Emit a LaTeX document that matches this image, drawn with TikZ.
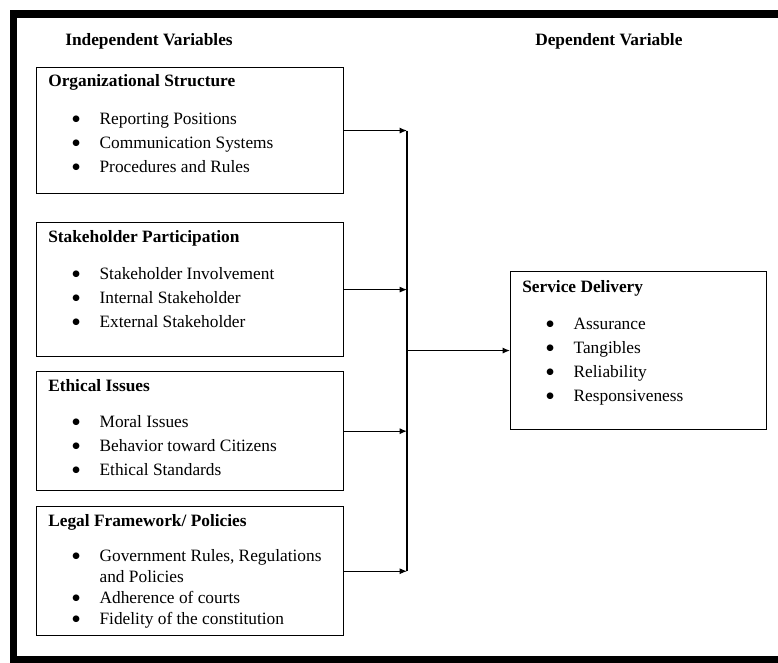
\documentclass[tikz,border=0pt]{standalone}
\usepackage{fontspec}
\setmainfont{Liberation Serif}
\newfontfamily\dotfont{DejaVu Sans}
\usetikzlibrary{arrows.meta,positioning}

\newcommand{\vitem}[1]{\hspace*{18pt}\makebox[20.5pt][l]{\raisebox{2.4pt}{\dotfont\fontsize{6.5}{6.5}\selectfont ●}}#1}

\tikzset{
  varbox/.style={draw, line width=0.8pt, inner sep=0, minimum width=230.25pt},
  vartext/.style={anchor=north west, align=left, inner sep=0, xshift=9pt, yshift=-5.75pt},
  header/.style={anchor=west, inner sep=0, font=\fontsize{13}{18}\selectfont\bfseries},
  conn/.style={-{Latex[length=5.5pt,width=4.5pt]}, line width=0.8pt},
}

\begin{document}
\begin{tikzpicture}[x=0.75pt,y=-0.75pt,font=\fontsize{13}{18}\selectfont]
\useasboundingbox (0,0) rectangle (778,662);

% Outer frame
\begin{scope}
  \clip (0,0) rectangle (778,662);
  \draw[line width=5.5pt] (13.5,14) rectangle (800,659.5);
\end{scope}

% Headers
\node[header] (indep) at (65,41) {Independent Variables};
\node[header] (dep) at (535,41) {Dependent Variable};

% Independent variable boxes
\node[varbox,
    anchor=north west,
    minimum height=94.5pt] (org) at (36,67) {};
\node[vartext] (orgtext) at (org.north west) {\textbf{Organizational Structure}\\[10pt]
    \vitem{Reporting Positions}\\
    \vitem{Communication Systems}\\
    \vitem{Procedures and Rules}};

\node[varbox,
    below=21pt of org,
    minimum height=100.5pt] (stake) {};
\node[vartext] (staketext) at (stake.north west) {\textbf{Stakeholder Participation}\\[10pt]
    \vitem{Stakeholder Involvement}\\
    \vitem{Internal Stakeholder}\\
    \vitem{External Stakeholder}};

\node[varbox,
    below=10.5pt of stake,
    minimum height=89.25pt] (ethic) {};
\node[vartext] (ethictext) at (ethic.north west) {\textbf{Ethical Issues}\\[9.5pt]
    \vitem{Moral Issues}\\
    \vitem{Behavior toward Citizens}\\
    \vitem{Ethical Standards}};

\node[varbox,
    below=11.25pt of ethic,
    minimum height=96.75pt] (legal) {};
\node[vartext, font=\fontsize{13}{15.75}\selectfont] (legaltext) at (legal.north west) {\textbf{Legal Framework/ Policies}\\[11pt]
    \vitem{Government Rules, Regulations}\\
    \hspace*{38.5pt}and Policies\\
    \vitem{Adherence of courts}\\
    \vitem{Fidelity of the constitution}};

% Dependent variable box
\node[varbox,
    anchor=north west,
    minimum width=192pt,
    minimum height=118.5pt] (svc) at (510,271) {};
\node[vartext, yshift=-1.5pt] (svctext) at (svc.north west) {\textbf{Service Delivery}\\[9.5pt]
    \vitem{Assurance}\\
    \vitem{Tangibles}\\
    \vitem{Reliability}\\
    \vitem{Responsiveness}};

% Arrows
\coordinate (bus) at (407,349);
\draw[line width=0.8pt] (org.east -| bus) -- (legal.east -| bus);
\draw[conn] (org.east) -- (org.east -| bus);
\draw[conn] (stake.east) -- (stake.east -| bus);
\draw[conn] (ethic.east) -- (ethic.east -| bus);
\draw[conn] (legal.east) -- (legal.east -| bus);
\draw[conn] (svc.west -| bus) -- (svc.west);

\end{tikzpicture}
\end{document}
